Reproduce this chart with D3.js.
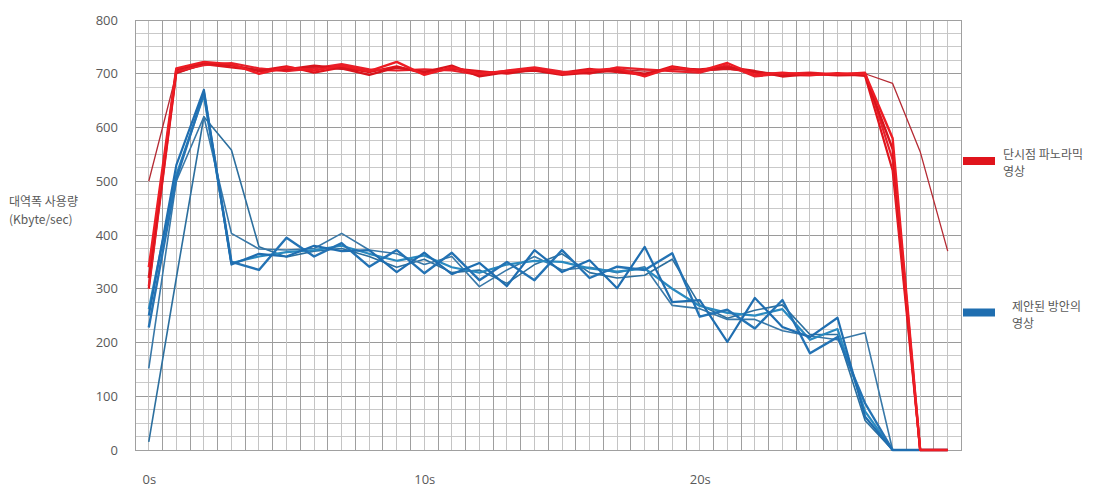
<!DOCTYPE html>
<html><head><meta charset="utf-8">
<script src="https://cdn.jsdelivr.net/npm/d3@7"></script>
<style>
html,body{margin:0;padding:0;background:#fff;}
svg text{font-family:"Noto Sans CJK KR","Noto Sans",sans-serif;}
</style></head>
<body><svg id="chart" width="1107" height="492"></svg>
<script>
// ---- data ----
const times = d3.range(0, 30); // seconds 0..29
const xTickLabels = [{t:0,label:"0s"},{t:10,label:"10s"},{t:20,label:"20s"}];
const yTicks = [0,100,200,300,400,500,600,700,800];

const red1 = [500,700,718,715,708,710,712,708,706,710,705,708,702,704,708,702,705,708,705,708,705,708,704,700,700,698,700,682,555,370];
const red2 = [340,710,722,718,700,712,706,715,705,722,698,712,700,705,710,700,706,710,695,712,705,720,698,702,698,700,700,580,0,0];
const red3 = [320,708,720,716,705,708,715,710,698,712,703,715,695,703,706,698,702,706,700,710,708,712,705,695,700,697,698,560,0,0];
const red4 = [305,705,716,720,710,705,710,718,708,706,708,706,698,706,712,704,700,712,708,705,702,716,695,700,702,699,702,540,0,0];
const red5 = [300,702,718,712,706,714,702,712,703,714,700,710,705,700,708,702,709,703,698,714,706,710,702,698,697,701,696,520,0,0];

const blue1 = [250,530,670,345,365,360,380,370,372,331,367,327,348,305,372,331,353,301,378,275,279,201,283,229,210,246,62,0,0,0];
const blue2 = [228,505,665,350,335,395,360,385,341,372,329,367,316,350,316,372,320,341,335,366,248,261,226,279,180,210,87,0,0,0];
const blue3 = [152,500,620,403,374,372,375,403,372,365,345,360,304,335,360,335,340,330,341,269,263,243,243,222,212,205,218,0,0,0];
const blue4 = [15,320,620,558,378,359,370,375,360,340,355,330,335,310,345,365,330,320,325,355,270,245,260,270,215,215,55,0,0,0];
const blue5 = [262,512,660,348,360,368,372,380,365,352,362,340,330,345,352,350,338,332,338,300,268,255,250,262,205,225,72,0,0,0];

const legendLabels = [["단시점 파노라믹","영상"],["제안된 방안의","영상"]];
const yTitle = ["대역폭 사용량","(Kbyte/sec)"];

// ---- layout ----
const svg = d3.select("#chart");
const x = d3.scaleLinear().domain([-0.5, 29.5]).range([135, 961.5]);
const y = d3.scaleLinear().domain([0, 800]).range([450, 20]);

const grid = svg.append("g");
// horizontal grid every 25
d3.range(0, 801, 25).forEach(v => {
  grid.append("line").attr("x1", x(-0.5)).attr("x2", x(29.5))
    .attr("y1", y(v)).attr("y2", y(v))
    .attr("stroke", v % 100 === 0 ? "#9a9a9a" : "#c9c9c9")
    .attr("stroke-width", 1).attr("shape-rendering","crispEdges");
});
// vertical grid every half second
d3.range(-0.5, 29.51, 0.5).forEach(t => {
  const major = Math.abs(t - Math.round(t)) > 0.1;
  grid.append("line").attr("x1", x(t)).attr("x2", x(t))
    .attr("y1", y(0)).attr("y2", y(800))
    .attr("stroke", major ? "#9f9f9f" : "#c4c4c4")
    .attr("stroke-width", 1).attr("shape-rendering","crispEdges");
});
// border
svg.append("rect").attr("x", x(-0.5)).attr("y", y(800))
  .attr("width", x(29.5)-x(-0.5)).attr("height", y(0)-y(800))
  .attr("fill","none").attr("stroke","#a0a0a0").attr("shape-rendering","crispEdges");

// y axis labels
const yAxis = d3.axisLeft(y).tickValues(yTicks).tickSize(0).tickPadding(0);
const gy = svg.append("g").attr("transform","translate(118,0)").call(yAxis);
gy.select(".domain").remove();
gy.selectAll("text").attr("fill","#595959").style("font-size","13px")
  .style("font-family","'Open Sans','Noto Sans',sans-serif");

// x axis labels
const xAxis = d3.axisBottom(x).tickValues(xTickLabels.map(d=>d.t))
  .tickFormat((d,i)=>xTickLabels[i].label).tickSize(0).tickPadding(0);
const gx = svg.append("g").attr("transform","translate(0,475)").call(xAxis);
gx.select(".domain").remove();
gx.selectAll("text").attr("fill","#595959").style("font-size","13px")
  .style("font-family","'Open Sans','Noto Sans',sans-serif");

// y title
yTitle.forEach((s,i)=>{
  svg.append("text").attr("x",9).attr("y",206+i*18).text(s)
    .attr("fill","#595959").style("font-size","12px");
});

// lines
const line = d3.line().x((d,i)=>x(times[i])).y(d=>y(d));
const blues = [
  {d:blue4,c:"#2c6f9e",w:1.6},
  {d:blue3,c:"#3878a8",w:1.6},
  {d:blue5,c:"#2a8ac0",w:2.2},
  {d:blue2,c:"#2473b4",w:2.4},
  {d:blue1,c:"#1f6eb0",w:2.2}
];
const reds = [
  {d:red1,c:"#b52a33",w:1.3},
  {d:red5,c:"#e0141c",w:2.2},
  {d:red4,c:"#e8202a",w:2.2},
  {d:red3,c:"#d8141c",w:2.4},
  {d:red2,c:"#ee1c24",w:2.4}
];
const lg = svg.append("g").attr("fill","none").attr("stroke-linejoin","round");
blues.concat(reds).forEach(s=>{
  lg.append("path").attr("d", line(s.d)).attr("stroke", s.c).attr("stroke-width", s.w);
});

// legend
const legColors = ["#e0141c","#1f6eb0"];
const legY = [161, 312.5];
const legTextX = [1003, 1012];
legendLabels.forEach((lab,i)=>{
  svg.append("rect").attr("x",963).attr("y",legY[i]-4).attr("width",32).attr("height",8)
    .attr("fill",legColors[i]);
  lab.forEach((s,j)=>{
    svg.append("text").attr("x",legTextX[i]).attr("y",legY[i]-2+j*17).text(s)
      .attr("fill","#595959").style("font-size","12px");
  });
});
</script></body></html>
